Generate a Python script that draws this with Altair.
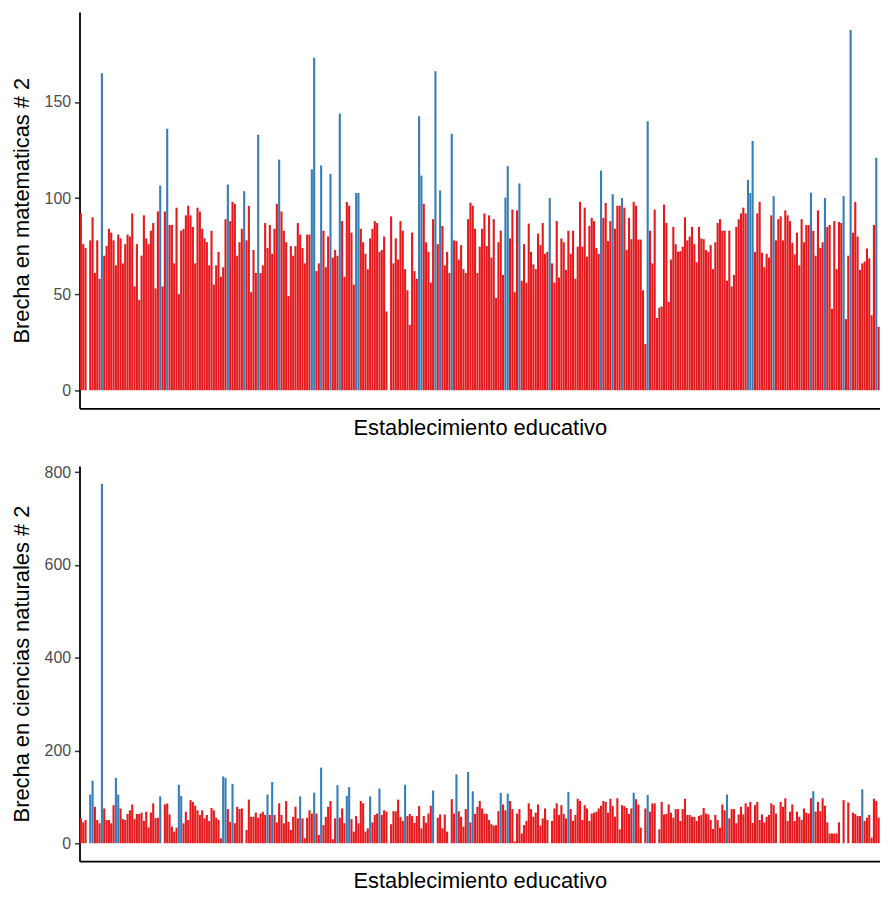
import altair as alt
import pandas as pd

# Brecha en matematicas # 2 (one value per establecimiento, None = missing)
mat = [92, 76, 74, None, 78, 90, 61, 78, 58, 165,
       70, 75, 84, 82, 78, 65, 81, 79, 66, 76,
       81, 80, 92, 54, 76, 47, 70, 91, 79, 76,
       83, 87, 53, 93, 106.5, 54, 93, 136, 86, 86,
       66, 95, 50, 83, 84, 91, 96, 91, 85, 66,
       95, 93, 84, 79, 77, 65, 83, 55, 65, 72,
       59, 64, 89, 107, 88, 98, 97, 70, 77, 84,
       103.6, 78, 96, 51, 73, 61, 133, 61, 65, 87,
       74, 86, 71, 84, 97, 120, 93, 83, 77, 49,
       75, 70, 75, 87, 81, 74, 66, 81, 81, 115,
       173, 62, 66, 117, 83, 64, 80, 112.6, 69, 73,
       70, 144, 88, 59, 98, 96, 82, 55, 102.6, 102.6,
       84, 77, 71, 63, 79, 84, 88, 87, 72, 73,
       80, 41, None, 90.5, 66, 79, 68, 88, 83, 63,
       52, 34, 82, 62, 58, 142.6, 111.7, 97, 77, 72,
       56, 89, 166, 76, 104, 85.5, 65, 72, 61, 133.4,
       78, 77.6, 68, 75.5, 63, 61, 89, 97.6, 96, 84,
       61, 74.7, 84, 92, 75, 91, 69, 89, 48, 77,
       83, 60, 100.2, 116.6, 79, 94, 51, 93.6, 107.6, 57,
       76, 56, 86.7, 72, 65.5, 63, 81.5, 75.5, 87, 71,
       72, 100, 66, 56, 88, 58.6, 79, 77, 62.6, 83,
       71, 83, 58, 74.7, 98, 74.7, 95, 69.5, 85.5, 89.7,
       88, 74, 71, 114.3, 89.7, 97.4, 77.6, 88, 102, 84,
       96, 96, 100, 95, 73, 89.7, 78.6, 98, 96, 78.4,
       78.4, 52, 24, 140, 83, 66, 94, 37.6, 43, 43.6,
       96.6, 87, 46, 68, 85, 76, 72, 72.4, 74.7, 90,
       78, 80, 85, 76, 66.6, 85, 79, 78.6, 73, 72,
       75.5, 63, 77, 87, 89, 83, 83, 57, 83, 54,
       60, 85, 89, 92, 95, 92, 109.5, 102.6, 129.7, 72,
       92, 98, 71.6, 64, 71, 69, 91, 101, 78, 89,
       90.5, 78, 93.6, 91, 88, 76.7, 70.7, 82, 65, 89,
       77, 86, 86, 102.8, 83, 70, 93.6, 74, 77, 100,
       85, 86, 42.4, 88, 63, 87.6, 87, 101, 37, 70,
       187.4, 82, 98, 80, 62.6, 66, 67, 73.8, 68.6, 39,
       86, 121, 33]

# Brecha en ciencias naturales # 2
cie = [53.6, 45, 50, None, 105, 135, 78.6, 50, 43, 775,
       75, 50, 50, 43, 82, 141, 105, 75, 52, 50,
       63, 71, 83.6, 52, 63, 63, 66, 48, 68, 34,
       66, 86, 54, 55, 101, None, 83.6, 85.7, 62, 36,
       25, 33.6, 126, 102, 43, 68, 50, 93, 89, 81,
       71, 61, 71, 53.6, 61, 48, 76, 71, 55, 50,
       10.7, 144, 141, 73.6, 46, 128, 43, 78.6, 73.6, 75,
       None, 28.6, 94, 57, 57, 66, 55, 64, 68, 61,
       105, 61, 132, 61, 45, 86, 61, 43, 91, 46,
       28.6, 57, 78.6, 53.6, 101, 53.6, 10.7, 55, 71, 64,
       109, 64, 18, 163, 39, 57, 78.6, 91, 8.6, 53.6,
       125, 55, 75, 43, 102, 121, 52, 25, 58.6, 43,
       91, 86, 25, 32, 101, 45, 61, 64, 118, 61,
       71, 68, None, 41, 69, 69, 94, 57, 48, 126,
       58.6, 63, 58.6, 44, 58.6, 80, 32, 58.6, 44, 64,
       81, 113.6, None, 55, 62, 32, 62, 25, None, 95,
       64, 148.6, 69, 57, 36, 73.6, 153.6, 45, 112, 63,
       78.6, 91, 75, 64, 63, 50, 41, 38, 39, 69,
       108.6, 83.6, 71, 107, 91, 73.6, 3.6, 64, 73.6, 21,
       39, 48, 86, 73.6, 57, 66, 83.6, 38, 53.6, 75,
       50, None, 48, 75, 86, 61, 82, 63, 53.6, 110.7,
       73.6, 48, 61, 96, 91, 50, 82, 75, 48, 64,
       66, 68, 75, 81, 91, 89, 66, 96, 80, 57,
       97, 30, 82, 80, 76, 63, 75, 109, 95, 83.6,
       33.6, None, 75, 104, 68, 86, 86, None, 30, 89,
       62, 63, 83.6, 66, 55, 73.6, 73.6, 48, 73.6, 96,
       61, 61, 57, 57, 48, 59, 61, 76, 64, 62,
       50, 30.7, 61, 50, 33.6, 83.6, 71, 105, 53.6, 73.6,
       73.6, 43, 62, 78.6, 62, 86, 78.6, 89, 44, 82,
       89, 50, 62, 45, 57, 61, 86, 82, 64, None,
       89, 78.6, 97, 48, 68, 83.6, 48, 68, 57, 50,
       75, 66, 64, 97, 112, 68, 89, 69, 97, 81,
       45, 21, 21, 20.7, 21, 45, None, 93, None, 88,
       None, 66, 63, 58.6, 58.6, 116, 48, 55, 61, 12,
       96, 91, 55]

mat_ticks = [0, 50, 100, 150]
cie_ticks = [0, 200, 400, 600, 800]

RED = "#E41A1C"
BLUE = "#377EB8"
FONT = "Liberation Sans"

n = len(mat)
idx = list(range(n))
df_m = pd.DataFrame({"i": idx, "v": mat})
df_c = pd.DataFrame({"i": idx, "v": cie})


def panel(df, ytitle, dom, ticks, h):
    color = alt.when(alt.datum.v > 99.5).then(alt.value(BLUE)).otherwise(alt.value(RED))
    return alt.Chart(df).mark_bar().encode(
        x=alt.X("i:O", scale=alt.Scale(domain=idx, paddingInner=0.1, paddingOuter=0.15),
                axis=alt.Axis(labels=False, ticks=False, title="Establecimiento educativo",
                              titlePadding=9)),
        y=alt.Y("v:Q", scale=alt.Scale(domain=dom, nice=False, zero=False),
                axis=alt.Axis(values=ticks, title=ytitle, titlePadding=11)),
        y2=alt.datum(0),
        color=color,
    ).properties(width=806, height=h)


top = panel(df_m, "Brecha en matematicas # 2", [-9.4, 196.8], mat_ticks, 399)
bot = panel(df_c, "Brecha en ciencias naturales # 2", [-38.75, 813.75], cie_ticks, 398)

chart = alt.vconcat(top, bot, spacing=26).properties(
    padding={"left": 2, "top": 1, "right": 0, "bottom": 2}
).configure_view(stroke=None).configure_axis(
    grid=False,
    domainColor="black",
    domainWidth=1.8,
    tickColor="#333333",
    tickSize=5,
    tickWidth=1.5,
    labelColor="#4D4D4D",
    labelFont=FONT,
    labelFontSize=16,
    labelPadding=4,
    titleFont=FONT,
    titleFontSize=22,
    titleFontWeight="normal",
    titleColor="black",
)

chart.save("out.html", embed_options={"renderer": "svg", "actions": False})
